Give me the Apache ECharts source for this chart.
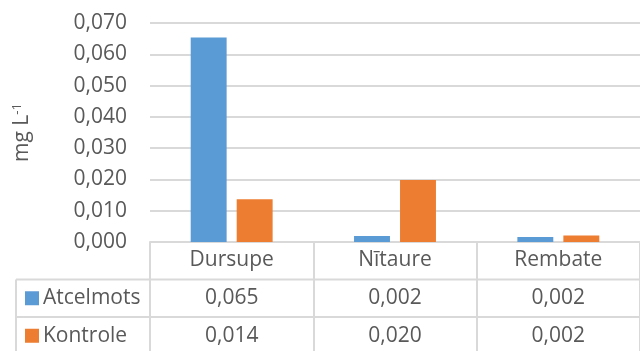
<!DOCTYPE html>
<html>
<head>
<meta charset="utf-8">
<script src="https://cdn.jsdelivr.net/npm/echarts@6/dist/echarts.min.js"></script>
<style>
html,body{margin:0;padding:0;background:#fff;}
#c{width:640px;height:351px;}
</style>
</head>
<body>
<div id="c"></div>
<script>
var categories = ['Dursupe', 'Nītaure', 'Rembate'];
var seriesNames = ['Atcelmots', 'Kontrole'];
var atcelmots = [0.0654, 0.0019, 0.0016];
var kontrole = [0.0137, 0.0198, 0.0021];
var colors = ['#5b9bd5', '#ed7d31'];
var yTicks = [0, 0.01, 0.02, 0.03, 0.04, 0.05, 0.06, 0.07];

var FONT = 'Open Sans';
var FS = 21;
var TXT = '#595959';
var LINE = '#d9d9d9';
function fmt(v){ return v.toFixed(3).replace('.', ','); }

var chart = echarts.init(document.getElementById('c'), null, {renderer:'canvas'});
var option = {
  animation: false,
  backgroundColor: '#fff',
  textStyle: {fontFamily: FONT},
  grid: {left: 150, right: -6, top: 23, bottom: 109, containLabel: false},
  xAxis: {
    type: 'category',
    data: categories,
    axisLine: {show: true, lineStyle: {color: LINE, width: 2}},
    axisTick: {show: true, alignWithLabel: false, length: 115, lineStyle: {color: LINE, width: 2}},
    axisLabel: {color: TXT, fontFamily: FONT, fontSize: FS, margin: 8}
  },
  yAxis: {
    type: 'value',
    min: 0, max: yTicks[yTicks.length-1], interval: yTicks[1]-yTicks[0],
    axisLine: {show: false},
    axisTick: {show: false},
    splitLine: {lineStyle: {color: LINE, width: 2}},
    axisLabel: {color: TXT, fontFamily: FONT, fontSize: FS, margin: 23, formatter: function(v){ return fmt(v); }},
    name: 'mg L{sup|-1}',
    nameLocation: 'middle',
    nameGap: 116,
    nameRotate: 90,
    nameTextStyle: {color: TXT, fontFamily: FONT, fontSize: FS,
      rich: {sup: {fontSize: 13, verticalAlign: 'top', color: TXT, fontFamily: FONT, padding: [0,0,10,0]}}}
  },
  series: [
    {name: seriesNames[0], type: 'bar', data: atcelmots, barWidth: '22%', barGap: '28%', itemStyle: {color: colors[0]}},
    {name: seriesNames[1], type: 'bar', data: kontrole, barWidth: '22%', barGap: '28%', itemStyle: {color: colors[1]}}
  ]
};
chart.setOption(option);

// Data table below the axis
function buildTable(){
  var base = chart.convertToPixel({yAxisIndex: 0}, 0);
  var rowH = 37.5;
  var leftX = 16;
  var g = [];
  var rows = [atcelmots, kontrole];
  for (var r = 0; r < rows.length; r++) {
    var top = base + rowH * (r + 1);
    g.push({type: 'line', shape: {x1: leftX, y1: top, x2: 640, y2: top}, style: {stroke: LINE, lineWidth: 2}, silent: true});
    var cy = top + rowH / 2;
    g.push({type: 'rect', shape: {x: 25, y: cy - 7, width: 14, height: 14}, style: {fill: colors[r]}});
    g.push({type: 'text', style: {text: seriesNames[r], x: 43, y: cy, textVerticalAlign: 'middle', textAlign: 'left',
      font: FS + 'px "' + FONT + '"', fill: TXT}});
    for (var c = 0; c < categories.length; c++) {
      var cx = chart.convertToPixel({xAxisIndex: 0}, c);
      g.push({type: 'text', style: {text: fmt(rows[r][c]), x: cx, y: cy, textAlign: 'center', textVerticalAlign: 'middle',
        font: FS + 'px "' + FONT + '"', fill: TXT}});
    }
  }
  g.push({type: 'line', shape: {x1: leftX, y1: base + rowH, x2: leftX, y2: 360}, style: {stroke: LINE, lineWidth: 2}});
  chart.setOption({graphic: g});
}
buildTable();
</script>
</body>
</html>
